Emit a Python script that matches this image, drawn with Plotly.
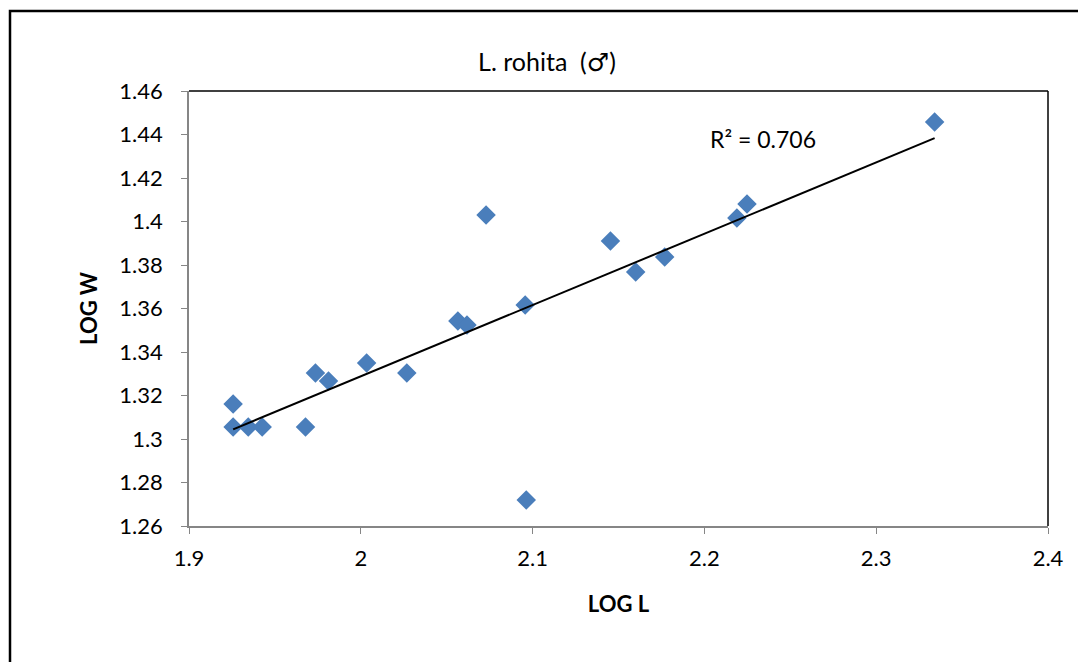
import numpy as np
import plotly.graph_objects as go

log_l = [1.9257, 1.9257, 1.9345, 1.9426, 1.9678, 1.9736, 1.9812, 2.0034, 2.0268,
         2.0565, 2.0618, 2.0729, 2.0957, 2.0963, 2.1453, 2.1600, 2.1769, 2.2189,
         2.2248, 2.3340]
log_w = [1.3161, 1.3055, 1.3055, 1.3055, 1.3055, 1.3303, 1.3267, 1.3349, 1.3303,
         1.3543, 1.3524, 1.4030, 1.3616, 1.2720, 1.3910, 1.3768, 1.3837, 1.4016,
         1.4080, 1.4457]
x_ticks = [1.9, 2.0, 2.1, 2.2, 2.3, 2.4]
x_ticklabels = ["1.9", "2", "2.1", "2.2", "2.3", "2.4"]
y_ticks = [1.26, 1.28, 1.30, 1.32, 1.34, 1.36, 1.38, 1.40, 1.42, 1.44, 1.46]
y_ticklabels = ["1.26", "1.28", "1.3", "1.32", "1.34", "1.36", "1.38", "1.4", "1.42", "1.44", "1.46"]
r2_label = "R² = 0.706"

slope, intercept = np.polyfit(log_l, log_w, 1)
fit_x = [min(log_l), max(log_l)]
fit_y = [slope * v + intercept for v in fit_x]

font = "Lato, 'Open Sans', sans-serif"

# page body has an 8px margin, so the figure is sized to end at the window edge
W, H = 1078, 654
L, T, R, B = 181, 83, 38, 136
pw, ph = W - L - R, H - T - B

title_text = "L. rohita  (<span style=\"font-family:'DejaVu Sans'; font-size:25px\">♂</span>)"

fig = go.Figure()
fig.add_trace(go.Scatter(x=log_l, y=log_w, mode="markers",
                         marker=dict(symbol="diamond", size=15, color="#4a7ebb"),
                         showlegend=False, hoverinfo="x+y"))
fig.add_trace(go.Scatter(x=fit_x, y=fit_y, mode="lines",
                         line=dict(color="black", width=2), showlegend=False))

fig.update_layout(
    width=W, height=H,
    margin=dict(l=L, r=R, t=T, b=B),
    paper_bgcolor="white", plot_bgcolor="white",
    font=dict(family=font, size=22, color="black"),
    title=dict(text=title_text, x=0.5, xanchor="center", y=1 - 54 / H, yanchor="middle",
               xref="container", yref="container", font=dict(size=25, family=font)),
    xaxis=dict(range=[1.9, 2.4], tickvals=x_ticks, ticktext=x_ticklabels,
               showgrid=False, zeroline=False, showline=True, linecolor="#868686",
               linewidth=1.5, ticks="outside", ticklen=6, tickcolor="#868686",
               tickfont=dict(size=22), ticklabelstandoff=6,
               title=dict(text="<b>LOG L</b>", font=dict(size=22), standoff=26)),
    yaxis=dict(range=[1.26, 1.46], tickvals=y_ticks, ticktext=y_ticklabels,
               showgrid=False, zeroline=False, showline=True, linecolor="#868686",
               linewidth=1.5, ticks="outside", ticklen=6, tickcolor="#868686",
               tickfont=dict(size=22), ticklabelstandoff=14,
               title=dict(text="<b>LOG W</b>", font=dict(size=22), standoff=16)),
    annotations=[dict(text=r2_label, x=(755 - L) / pw, y=(526 - 139) / ph, xref="paper", yref="paper",
                      showarrow=False, font=dict(size=23), xanchor="center", yanchor="middle")],
    shapes=[
        dict(type="line", xref="paper", yref="paper", x0=0, x1=1, y0=1, y1=1,
             line=dict(color="black", width=1.5)),
        dict(type="line", xref="paper", yref="paper", x0=1, x1=1, y0=0, y1=1,
             line=dict(color="black", width=1.5)),
        dict(type="rect", xref="paper", yref="paper",
             x0=(2 - L) / pw, x1=(W + 20 - L) / pw,
             y0=-(B + 20) / ph, y1=(H - B - 3) / ph,
             line=dict(color="black", width=2.5)),
    ],
)
fig.write_html("out.html")
